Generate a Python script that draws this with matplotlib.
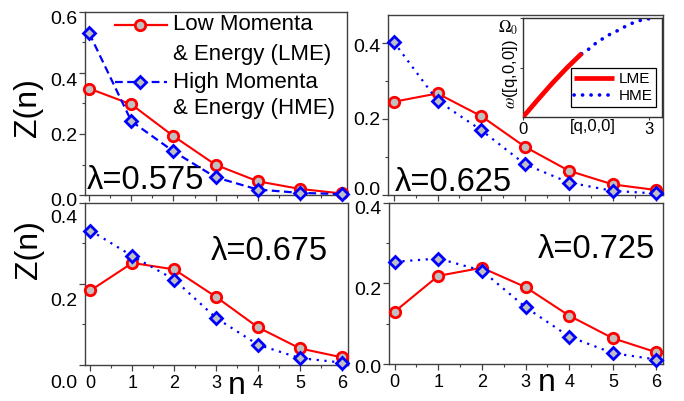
import numpy as np
import matplotlib
matplotlib.use('Agg')
import matplotlib.pyplot as plt
from matplotlib.ticker import MultipleLocator
from matplotlib.lines import Line2D
from matplotlib.transforms import ScaledTranslation

plt.rcParams['font.family'] = ['Liberation Sans', 'DejaVu Sans']
plt.rcParams['mathtext.fontset'] = 'stix'

# occupation number n
n = [0, 1, 2, 3, 4, 5, 6]

# Z(n)
lme_575 = [0.349, 0.297, 0.193, 0.099, 0.045, 0.020, 0.005]
hme_575 = [0.530, 0.242, 0.143, 0.058, 0.018, 0.007, 0.003]
lme_625 = [0.246, 0.268, 0.208, 0.127, 0.064, 0.028, 0.013]
hme_625 = [0.404, 0.249, 0.171, 0.081, 0.033, 0.011, 0.004]
lme_675 = [0.184, 0.252, 0.236, 0.168, 0.093, 0.041, 0.019]
hme_675 = [0.332, 0.269, 0.211, 0.116, 0.050, 0.017, 0.006]
lme_725 = [0.130, 0.219, 0.239, 0.191, 0.120, 0.064, 0.029]
hme_725 = [0.254, 0.262, 0.232, 0.141, 0.068, 0.027, 0.011]

# inset dispersion omega([q,0,0]) in units of Omega_0
q_lme = [0.0, 0.35, 0.70, 1.05, 1.40]
w_lme = [0.0, 0.174, 0.343, 0.500, 0.644]
q_hme = [1.39, 1.57, 1.73, 1.90, 2.06, 2.24, 2.40, 2.56, 2.71, 2.87, 3.00, 3.10]
w_hme = [0.637, 0.688, 0.746, 0.793, 0.834, 0.871, 0.908, 0.942, 0.966, 0.986, 0.993, 0.999]

RED = '#ff0000'
BLUE = '#0000ff'
GRAY = '#c0c0c0'
SPINE = '#404040'

fig = plt.figure(figsize=(6.84, 4.01), dpi=100)

# panel positions in figure fraction
ax_tl = fig.add_axes([0.1243, 0.5137, 0.3830, 0.4564])
ax_tr = fig.add_axes([0.5673, 0.5137, 0.4020, 0.4489])
ax_bl = fig.add_axes([0.1243, 0.0898, 0.3845, 0.4040])
ax_br = fig.add_axes([0.5687, 0.0923, 0.4006, 0.4015])

# last item: pixel shift (down) of each y tick label, as in the original
panels = [
    (ax_tl, lme_575, hme_575, (0, 0.6), [0, 0.2, 0.4, 0.6], (0, (3.5, 2.0)), [4, 0, 7, 6]),
    (ax_tr, lme_625, hme_625, (0, 0.475), [0, 0.2, 0.4], (0, (1, 2.5)), [-7, -1, 2]),
    (ax_bl, lme_675, hme_675, (0, 0.4), [0, 0.2, 0.4], (0, (1, 2.5)), [17, 16, 14]),
    (ax_br, lme_725, hme_725, (0, 0.4), [0, 0.2, 0.4], (0, (1, 2.5)), [3, 5, 5]),
]

for ax, lme, hme, ylim, yticks, hme_ls, yshifts in panels:
    ax.plot(n, lme, color=RED, lw=1.5, marker='o', ms=7.5, mfc=GRAY,
            mec=RED, mew=2, clip_on=False, zorder=3)
    ax.plot(n, hme, color=BLUE, lw=1.6, ls=hme_ls, marker='D', ms=6.5,
            mfc=GRAY, mec=BLUE, mew=2, clip_on=False, zorder=4)
    ax.set_xlim(-0.13, 6.15)
    ax.set_ylim(*ylim)
    ax.set_xticks(n)
    ax.set_yticks(yticks)
    ax.set_yticklabels([f'{v:.1f}' for v in yticks])
    ax.xaxis.set_minor_locator(MultipleLocator(0.5))
    ax.yaxis.set_minor_locator(MultipleLocator(0.1))
    ax.tick_params(which='both', direction='out', color=SPINE, top=False, right=False)
    ax.tick_params(which='major', length=4, width=0.9)
    ax.tick_params(which='minor', length=2.5, width=0.8)
    ax.tick_params(axis='y', labelsize=14, pad=1.5)
    ax.tick_params(axis='x', labelsize=13, pad=3)
    for sp in ax.spines.values():
        sp.set_color(SPINE)
        sp.set_linewidth(1.0)
    for lab, dy in zip(ax.get_yticklabels(), yshifts):
        off = ScaledTranslation(0, -dy / 100, fig.dpi_scale_trans)
        lab.set_transform(lab.get_transform() + off)

ax_tl.set_xlim(-0.1, 6.12)
ax_tl.tick_params(labelbottom=False)
ax_tr.tick_params(labelbottom=False)

# axis labels
ax_tl.text(-0.218, 0.48, 'Z(n)', transform=ax_tl.transAxes, fontsize=23,
           rotation=90, ha='center', va='center')
ax_bl.text(-0.213, 0.71, 'Z(n)', transform=ax_bl.transAxes, fontsize=23,
           rotation=90, ha='center', va='center')
ax_bl.text(0.578, -0.178, 'n', transform=ax_bl.transAxes, fontsize=23,
           ha='center', va='baseline')
ax_br.text(0.577, -0.168, 'n', transform=ax_br.transAxes, fontsize=23,
           ha='center', va='baseline')

# coupling labels
ax_tl.text(0.008, 0.08, 'λ=0.575', transform=ax_tl.transAxes, fontsize=23.5,
           ha='left', va='center')
ax_tr.text(0.025, 0.072, 'λ=0.625', transform=ax_tr.transAxes, fontsize=23.5,
           ha='left', va='center')
ax_bl.text(0.924, 0.70, 'λ=0.675', transform=ax_bl.transAxes, fontsize=23.5,
           ha='right', va='center')
ax_br.text(0.971, 0.708, 'λ=0.725', transform=ax_br.transAxes, fontsize=23.5,
           ha='right', va='center')

# hand-made legend in the first panel (handle sits on the first text line)
leg_rows = [
    (0.929, 0.765, 'Low Momenta', '& Energy (LME)', RED, '-', 'o', 7.5),
    (0.617, 0.475, 'High Momenta', '& Energy (HME)', BLUE, (0, (3.5, 2.0)), 'D', 6.5),
]
for y1, y2, t1, t2, col, ls, mk, ms in leg_rows:
    ax_tl.add_line(Line2D([0.115, 0.313], [y1, y1], transform=ax_tl.transAxes,
                          color=col, lw=1.6, ls=ls, zorder=5))
    ax_tl.add_line(Line2D([0.210], [y1], transform=ax_tl.transAxes, color=col,
                          marker=mk, ms=ms, mfc=GRAY, mec=col, mew=2, zorder=6))
    ax_tl.text(0.336, y1, t1, transform=ax_tl.transAxes, fontsize=16,
               ha='left', va='center')
    ax_tl.text(0.336, y2, t2, transform=ax_tl.transAxes, fontsize=16,
               ha='left', va='center')

# inset: dispersion along [q,0,0]
ins = fig.add_axes([0.7646, 0.7082, 0.2032, 0.2469])
ins.plot(q_lme, w_lme, color=RED, lw=3.4, solid_capstyle='butt', label='LME', zorder=3)
ins.plot(q_hme, w_hme, color=BLUE, lw=2.6, ls=(0, (0.05, 2.3)),
         dash_capstyle='round', label='HME', zorder=2)
ins.set_xlim(0, 3.3)
ins.set_ylim(0, 1.0)
ins.set_xticks([0, 3])
ins.set_xticklabels(['0', '3'])
ins.set_yticks([0.5, 1.0])
ins.set_yticklabels(['', r'$\Omega_0$'])
ins.tick_params(direction='out', length=2.5, color=SPINE, labelsize=12, pad=1)
for lab in ins.get_yticklabels():
    lab.set_transform(lab.get_transform() + ScaledTranslation(0, -0.08, fig.dpi_scale_trans))
ins.text(-0.09, 0.43, r'$\omega$([q,0,0])', transform=ins.transAxes, fontsize=12,
         rotation=90, ha='center', va='center')
ins.text(0.50, -0.10, '[q,0,0]', transform=ins.transAxes, fontsize=12,
         ha='center', va='center')
for sp in ins.spines.values():
    sp.set_color('#303030')
    sp.set_linewidth(1.0)
leg = ins.legend(loc='lower right', bbox_to_anchor=(0.96, 0.10), fontsize=11,
                 frameon=True, fancybox=False, edgecolor='black', framealpha=1,
                 handlelength=2.6, handletextpad=0.3, borderpad=0.25,
                 labelspacing=0.2, borderaxespad=0)
leg.get_frame().set_linewidth(0.9)

plt.savefig('out.png', dpi=100)
